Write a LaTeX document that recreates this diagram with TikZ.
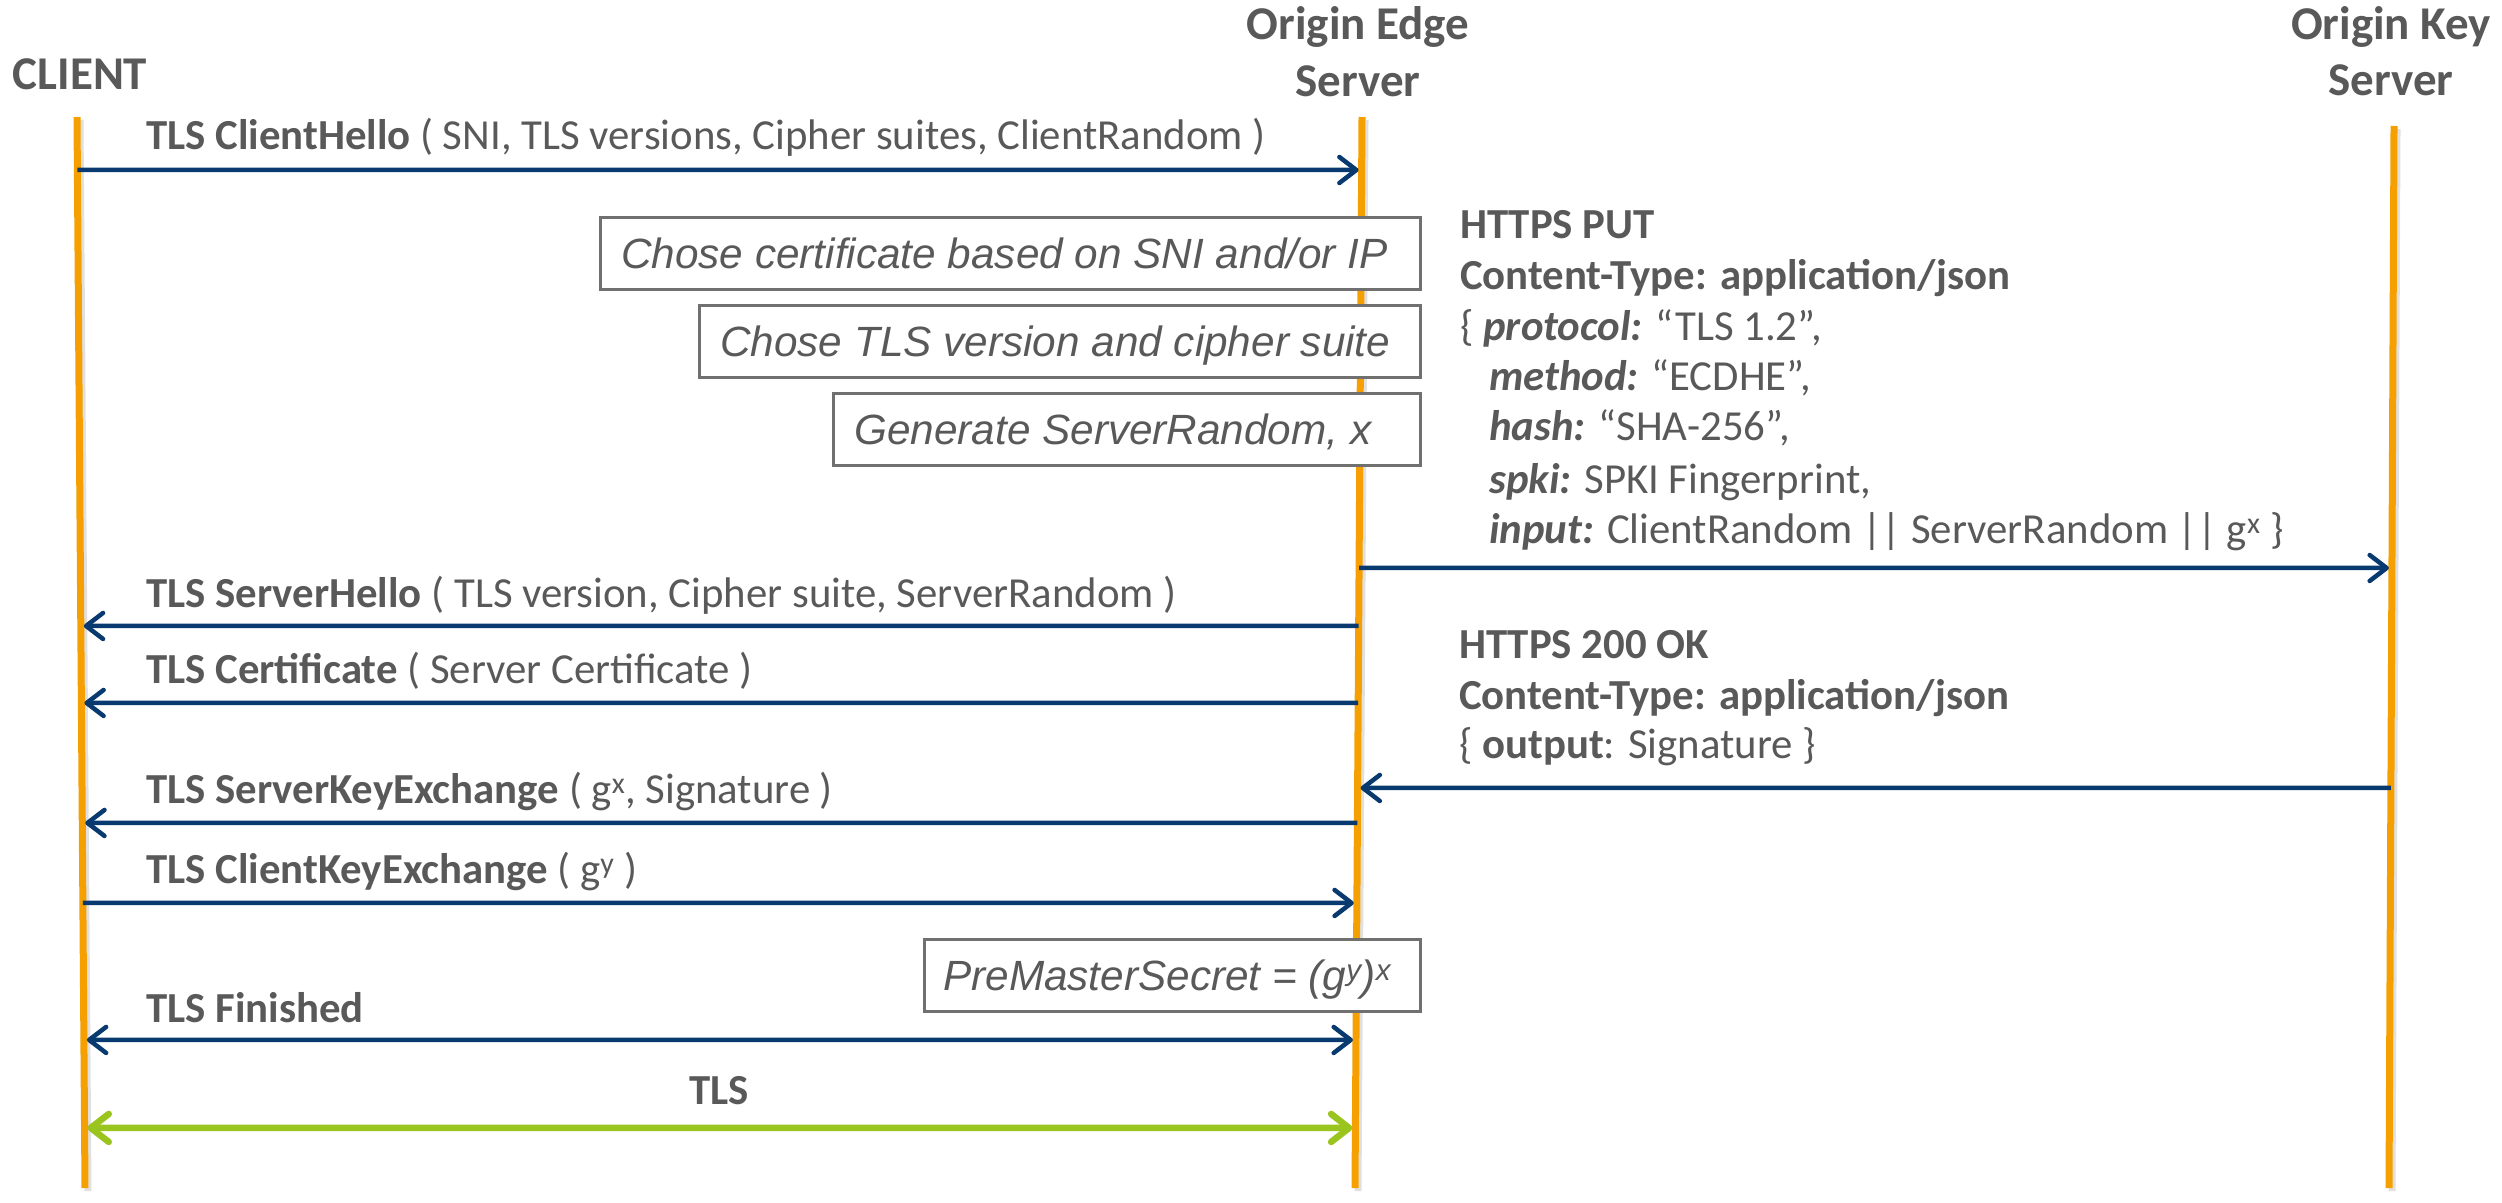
\documentclass[tikz,border=0pt]{standalone}
\usepackage{fontspec}
\setmainfont{Carlito}
\newfontfamily\notefont{Liberation Sans}
\usetikzlibrary{arrows.meta,calc}

\definecolor{txt}{HTML}{595959}
\definecolor{navy}{RGB}{8,58,112}
\definecolor{life}{RGB}{245,160,0}
\definecolor{tlsgreen}{RGB}{154,196,30}
\definecolor{boxline}{HTML}{707070}

% point on a lifeline (prefix #1) at height #2, named #3
\newcommand\lpt[3]{\coordinate (#3) at (intersection of #1T--#1B and 0,#2--100,#2);}

\begin{document}
\begin{tikzpicture}[x=1pt,y=-1pt,
  title/.style={font=\fontsize{47}{56}\selectfont\bfseries, text=txt, inner sep=0pt, anchor=base},
  msg/.style={font=\fontsize{42.8}{51}\selectfont, text=txt, inner sep=0pt, anchor=base west},
  lifeline/.style={draw=life, line width=7pt},
  lifeshadow/.style={draw=black, opacity=0.12, line width=7pt},
  msgarrow/.style={draw=navy, line width=4.5pt,
    -{Straight Barb[length=17pt,width=26pt,round]}, shorten >=3pt},
  bothway/.style={draw=navy, line width=4.5pt,
    {Straight Barb[length=17pt,width=26pt,round]}-{Straight Barb[length=17pt,width=26pt,round]},
    shorten >=3pt, shorten <=3pt},
  tlsarrow/.style={draw=tlsgreen, line width=6.5pt,
    {Straight Barb[length=18pt,width=28pt,round]}-{Straight Barb[length=18pt,width=28pt,round]},
    shorten >=3pt, shorten <=3pt},
  notebox/.style={draw=boxline, line width=3pt, fill=white, inner sep=0pt},
  notetext/.style={font=\fontsize{42.3}{50}\selectfont\notefont\itshape, text=txt, inner sep=0pt, anchor=base west},
]
\useasboundingbox[fill=white] (0,0) rectangle (2502,1202);

% participants
\node[title] (tClient) at (80,89) {CLIENT};
\node[title] (tEdge1) at (1358,39) {Origin Edge};
\node[title] (tEdge2) at (1358,96) {Server};
\node[title] (tKey1) at (2391,39) {Origin Key};
\node[title] (tKey2) at (2391,95) {Server};

% lifelines
\coordinate (cT) at (77,117);   \coordinate (cB) at (85,1188);
\coordinate (eT) at (1362,117); \coordinate (eB) at (1355,1188);
\coordinate (kT) at (2394,126); \coordinate (kB) at (2389,1188);
\draw[lifeshadow] ($(cT)+(3,3)$) -- ($(cB)+(3,3)$);
\draw[lifeshadow] ($(eT)+(3,3)$) -- ($(eB)+(3,3)$);
\draw[lifeshadow] ($(kT)+(3,3)$) -- ($(kB)+(3,3)$);
\draw[lifeline] (cT) -- (cB);
\draw[lifeline] (eT) -- (eB);
\draw[lifeline] (kT) -- (kB);

% message end points on the lifelines
\lpt{c}{170}{c1} \lpt{e}{170}{e1}
\lpt{e}{568}{e2} \lpt{k}{568}{k2}
\lpt{e}{626}{e3} \lpt{c}{626}{c3}
\lpt{e}{703}{e4} \lpt{c}{703}{c4}
\lpt{k}{788}{k5} \lpt{e}{788}{e5}
\lpt{e}{823}{e6} \lpt{c}{823}{c6}
\lpt{c}{903}{c7} \lpt{e}{903}{e7}
\lpt{c}{1040}{c8} \lpt{e}{1040}{e8}
\lpt{c}{1128}{c9} \lpt{e}{1128}{e9}

% server-side processing steps
\node[notebox, minimum width=820pt, minimum height=72pt, anchor=north west] (box1) at (599,216) {};
\node[notebox, minimum width=721pt, minimum height=72pt, anchor=north west] (box2) at (698,304) {};
\node[notebox, minimum width=587pt, minimum height=72pt, anchor=north west] (box3) at (832,392) {};
\node[notebox, minimum width=496pt, minimum height=72pt, anchor=north west] (box4) at (923,938) {};
\node[notetext] (n1) at (621,268) {Chose certificate based on SNI and/or IP};
\node[notetext] (n2) at (720,356) {Chose TLS version and cipher suite};
\node[notetext] (n3) at (854,444) {Generate ServerRandom, x};
\node[notetext] (n4) at (943,990) {PreMasterSecret = (g\textsuperscript{y})\textsuperscript{x}};

% messages
\draw[msgarrow] (c1) -- (e1);
\draw[msgarrow] (e2) -- (k2);
\draw[msgarrow] (e3) -- (c3);
\draw[msgarrow] (e4) -- (c4);
\draw[msgarrow] (k5) -- (e5);
\draw[msgarrow] (e6) -- (c6);
\draw[msgarrow] (c7) -- (e7);
\draw[bothway] (c8) -- (e8);
\draw[tlsarrow] (c9) -- (e9);

\node[msg] (m1) at (146,149) {\textbf{TLS ClientHello} ( SNI, TLS versions, Cipher suites, ClientRandom )};
\node[msg] (m3) at (146,607) {\textbf{TLS ServerHello} ( TLS version, Cipher suite, ServerRandom )};
\node[msg] (m4) at (146,683) {\textbf{TLS Certificate} ( Server Certificate )};
\node[msg] (m6) at (146,803) {\textbf{TLS ServerKeyExchange} ( g\textsuperscript{x}, Signature )};
\node[msg] (m7) at (146,883) {\textbf{TLS ClientKeyExchange} ( g\textsuperscript{y} )};
\node[msg] (m8) at (146,1022) {\textbf{TLS Finished}};
\node[msg, anchor=base] (m9) at (719,1104) {\textbf{TLS}};

% key server request
\node[msg] (p1) at (1460,238) {\textbf{HTTPS PUT}};
\node[msg] (p2) at (1460,289) {\textbf{Content-Type: application/json}};
\node[msg] (p3) at (1460,340) {\{ \textbf{\textit{protocol:}} “TLS 1.2”,};
\node[msg] (p4) at (1489,390) {\textbf{\textit{method:}} “ECDHE”,};
\node[msg] (p5) at (1489,440) {\textbf{\textit{hash:}} “SHA-256”,};
\node[msg] (p6) at (1489,493) {\textbf{\textit{spki:}} SPKI Fingerprint,};
\node[msg] (p7) at (1489,543) {\textbf{\textit{input:}} ClientRandom || ServerRandom || g\textsuperscript{x} \}};

% key server response
\node[msg] (r1) at (1459,658) {\textbf{HTTPS 200 OK}};
\node[msg] (r2) at (1459,709) {\textbf{Content-Type: application/json}};
\node[msg] (r3) at (1459,758) {\{ \textbf{output}: Signature \}};
\end{tikzpicture}
\end{document}
